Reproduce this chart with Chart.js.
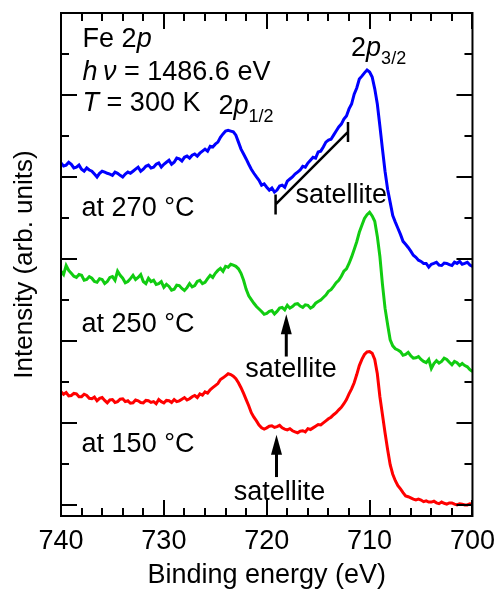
<!DOCTYPE html>
<html><head><meta charset="utf-8">
<script src="https://cdn.jsdelivr.net/npm/chart.js@4/dist/chart.umd.min.js"></script>
<style>html,body{margin:0;padding:0;background:#fff}#wrap{width:504px;height:593px;position:relative}</style>
</head><body><div id="wrap"><canvas id="c"></canvas></div>
<script>
// ---------------- data ----------------
const energies = [
  740,739.75,739.5,739.25,739,738.75,738.5,738.25,
  738,737.75,737.5,737.25,737,736.75,736.5,736.25,
  736,735.75,735.5,735.25,735,734.75,734.5,734.25,
  734,733.75,733.5,733.25,733,732.75,732.5,732.25,
  732,731.75,731.5,731.25,731,730.75,730.5,730.25,
  730,729.75,729.5,729.25,729,728.75,728.5,728.25,
  728,727.75,727.5,727.25,727,726.75,726.5,726.25,
  726,725.75,725.5,725.25,725,724.75,724.5,724.25,
  724,723.75,723.5,723.25,723,722.75,722.5,722.25,
  722,721.75,721.5,721.25,721,720.75,720.5,720.25,
  720,719.75,719.5,719.25,719,718.75,718.5,718.25,
  718,717.75,717.5,717.25,717,716.75,716.5,716.25,
  716,715.75,715.5,715.25,715,714.75,714.5,714.25,
  714,713.75,713.5,713.25,713,712.75,712.5,712.25,
  712,711.75,711.5,711.25,711,710.75,710.5,710.25,
  710,709.75,709.5,709.25,709,708.75,708.5,708.25,
  708,707.75,707.5,707.25,707,706.75,706.5,706.25,
  706,705.75,705.5,705.25,705,704.75,704.5,704.25,
  704,703.75,703.5,703.25,703,702.75,702.5,702.25,
  702,701.75,701.5,701.25,701,700.75,700.5,700.25,
  700];
const blue270 = [
  8.34,8.27,8.29,8.36,8.31,8.22,8.24,8.29,
  8.19,8.14,8.22,8.17,8.14,8.07,8.00,8.09,
  8.14,8.12,8.09,8.07,8.04,8.12,8.09,8.04,
  8.00,8.07,8.12,8.09,8.14,8.19,8.24,8.14,
  8.19,8.26,8.29,8.22,8.24,8.31,8.34,8.24,
  8.31,8.36,8.41,8.31,8.36,8.46,8.44,8.39,
  8.48,8.51,8.46,8.53,8.56,8.51,8.58,8.63,
  8.68,8.63,8.75,8.73,8.80,8.85,8.97,9.05,
  9.12,9.14,9.12,9.10,9.02,8.85,8.68,8.56,
  8.44,8.31,8.19,8.09,8.00,7.92,7.80,7.83,
  7.75,7.68,7.73,7.63,7.68,7.78,7.80,7.75,
  7.90,7.95,8.00,8.07,8.12,8.17,8.26,8.24,
  8.34,8.41,8.48,8.46,8.61,8.63,8.73,8.85,
  8.90,8.92,9.02,9.12,9.22,9.29,9.41,9.49,
  9.66,9.78,10.02,10.17,10.39,10.46,10.54,10.61,
  10.56,10.44,10.15,9.78,9.24,8.68,8.14,7.70,
  7.38,7.06,6.90,6.75,6.60,6.43,6.36,6.28,
  6.19,6.09,6.04,5.97,5.94,5.89,5.89,5.80,
  5.87,5.89,5.92,5.85,5.84,5.90,5.89,5.86,
  5.84,5.92,5.89,5.94,5.87,5.89,5.92,5.85,
  5.82];
const green250 = [
  5.70,5.62,5.84,5.72,5.65,5.58,5.55,5.62,
  5.60,5.48,5.50,5.57,5.53,5.45,5.43,5.52,
  5.50,5.40,5.45,5.55,5.57,5.48,5.70,5.60,
  5.53,5.42,5.45,5.52,5.60,5.50,5.55,5.62,
  5.45,5.40,5.53,5.45,5.48,5.38,5.40,5.45,
  5.31,5.38,5.33,5.24,5.26,5.36,5.35,5.28,
  5.23,5.30,5.40,5.32,5.35,5.45,5.48,5.40,
  5.43,5.52,5.60,5.55,5.65,5.72,5.77,5.70,
  5.82,5.80,5.87,5.85,5.82,5.76,5.65,5.48,
  5.26,5.10,5.01,4.92,4.84,4.78,4.72,4.65,
  4.67,4.72,4.74,4.66,4.72,4.80,4.82,4.76,
  4.87,4.80,4.84,4.90,4.91,4.85,4.82,4.88,
  4.87,4.80,4.84,4.92,4.96,5.00,5.06,5.12,
  5.21,5.25,5.33,5.42,5.48,5.58,5.70,5.76,
  5.89,6.05,6.23,6.42,6.65,6.82,6.99,7.08,
  7.14,7.05,6.92,6.55,6.06,5.38,4.80,4.40,
  4.03,3.88,3.81,3.78,3.74,3.65,3.67,3.72,
  3.64,3.58,3.59,3.62,3.55,3.50,3.47,3.55,
  3.33,3.45,3.52,3.46,3.50,3.58,3.55,3.48,
  3.42,3.50,3.47,3.40,3.45,3.40,3.37,3.30,
  3.25];
const red150 = [
  2.76,2.70,2.74,2.66,2.67,2.72,2.71,2.64,
  2.64,2.70,2.67,2.60,2.59,2.63,2.54,2.60,
  2.62,2.55,2.49,2.56,2.57,2.50,2.52,2.58,
  2.59,2.52,2.54,2.48,2.49,2.56,2.54,2.50,
  2.49,2.55,2.54,2.50,2.52,2.47,2.57,2.52,
  2.49,2.55,2.54,2.50,2.57,2.52,2.54,2.58,
  2.62,2.56,2.59,2.64,2.67,2.62,2.71,2.68,
  2.76,2.73,2.81,2.86,2.91,2.96,3.06,3.10,
  3.15,3.20,3.18,3.14,3.08,2.98,2.86,2.72,
  2.57,2.42,2.25,2.14,2.05,1.95,1.88,1.85,
  1.88,1.92,1.93,1.89,1.91,1.94,1.88,1.85,
  1.83,1.86,1.81,1.78,1.76,1.80,1.81,1.78,
  1.86,1.84,1.88,1.92,1.96,1.95,2.00,2.05,
  2.10,2.14,2.20,2.25,2.32,2.38,2.47,2.57,
  2.71,2.83,2.98,3.18,3.40,3.55,3.67,3.73,
  3.74,3.70,3.55,3.20,2.64,2.20,1.76,1.35,
  0.98,0.75,0.59,0.47,0.39,0.30,0.22,0.20,
  0.17,0.14,0.12,0.14,0.12,0.08,0.10,0.07,
  0.07,0.09,0.05,0.03,0.07,0.04,0.02,0.05,
  0.05,0.02,0.00,0.03,0.02,0.00,0.00,0.03,
  0.02];
const seriesNames = ['at 270 °C','at 250 °C','at 150 °C'];
const xTickLabels = [740,730,720,710,700];
const xMinorTicks = [738,736,734,732,728,726,724,722,718,716,714,712,708,706,704,702];
const yMajorTicks = [0,2,4,6,8,10,12];
const yMinorTicks = [1,3,5,7,9,11];

// ---------------- annotation placement (data coordinates) ----------------
const FONT = "'Liberation Sans', Arial, Helvetica, sans-serif";
const textNotes = [
  {x:737.9, y:11.17, parts:[{t:'Fe 2'},{t:'p',i:1}]},
  {x:737.9, y:10.37, parts:[{t:'h',i:1},{t:'\u2009'},{t:'\u03bd',i:1},{t:' = 1486.6 eV'}]},
  {x:737.9, y:9.61, parts:[{t:'T',i:1},{t:' = 300 K'}]},
  {x:724.7, y:9.54, parts:[{t:'2'},{t:'p',i:1},{t:'1/2',s:1}]},
  {x:711.8, y:10.95, parts:[{t:'2'},{t:'p',i:1},{t:'3/2',s:1}]},
  {x:738.0, y:7.04, parts:[{t:seriesNames[0]}]},
  {x:738.0, y:4.21, parts:[{t:seriesNames[1]}]},
  {x:738.0, y:1.30, parts:[{t:seriesNames[2]}]},
  {x:717.2, y:7.36, parts:[{t:'satellite'}]},
  {x:722.1, y:3.11, parts:[{t:'satellite'}]},
  {x:723.2, y:0.12, parts:[{t:'satellite'}]}
];
const bracket = [[719.14,7.33],[712.1,9.1]];
const arrows = [{x:718.1, tip:4.65, tail:3.62},{x:719.05, tip:1.71, tail:0.68}];

const mk = vals => energies.map((e,i)=>({x:e,y:vals[i]}));

const deco = {
  id:'deco',
  afterDatasetsDraw(chart){
    const {ctx, chartArea:a, scales:{x,y}} = chart;
    ctx.save();
    ctx.strokeStyle='#000'; ctx.fillStyle='#000'; ctx.lineWidth=2;
    ctx.beginPath();
    const tick = (vals,len) => {
      vals.forEach(v=>{const p=Math.round(x.getPixelForValue(v));
        ctx.moveTo(p,a.bottom); ctx.lineTo(p,a.bottom-len);
        ctx.moveTo(p,a.top); ctx.lineTo(p,a.top+len);});
    };
    const ytick = (vals,len) => {
      vals.forEach(v=>{const p=Math.round(y.getPixelForValue(v));
        ctx.moveTo(a.left,p); ctx.lineTo(a.left+len,p);
        ctx.moveTo(a.right,p); ctx.lineTo(a.right-len,p);});
    };
    tick(xTickLabels,16); tick(xMinorTicks,8);
    ytick(yMajorTicks,16); ytick(yMinorTicks,8);
    ctx.stroke();
    ctx.strokeRect(a.left,a.top,a.right-a.left,a.bottom-a.top);
    // bracket
    ctx.lineWidth=2.5;
    const b0x=x.getPixelForValue(bracket[0][0]), b0y=y.getPixelForValue(bracket[0][1]);
    const b1x=x.getPixelForValue(bracket[1][0]), b1y=y.getPixelForValue(bracket[1][1]);
    ctx.beginPath();
    ctx.moveTo(b0x,b0y); ctx.lineTo(b1x,b1y);
    ctx.moveTo(b0x,b0y-10); ctx.lineTo(b0x,b0y+10);
    ctx.moveTo(b1x,b1y-10); ctx.lineTo(b1x,b1y+10);
    ctx.stroke();
    // arrows
    arrows.forEach(ar=>{
      const px=x.getPixelForValue(ar.x), pt=y.getPixelForValue(ar.tip), pb=y.getPixelForValue(ar.tail);
      ctx.lineWidth=3;
      ctx.beginPath(); ctx.moveTo(px,pb); ctx.lineTo(px,pt+14); ctx.stroke();
      ctx.beginPath(); ctx.moveTo(px,pt); ctx.lineTo(px-5.5,pt+20); ctx.lineTo(px+5.5,pt+20); ctx.closePath(); ctx.fill();
    });
    // texts
    ctx.textBaseline='alphabetic'; ctx.textAlign='left';
    textNotes.forEach(n=>{
      let cx=x.getPixelForValue(n.x); const by=y.getPixelForValue(n.y);
      n.parts.forEach(p=>{
        const fs = p.s ? 18 : 27;
        ctx.font=(p.i?'italic ':'')+fs+'px '+FONT;
        ctx.fillText(p.t,cx,by+(p.s?8:0));
        cx+=ctx.measureText(p.t).width;
      });
    });
    ctx.restore();
  }
};

new Chart(document.getElementById('c'),{
  type:'line',
  data:{datasets:[
    {label:seriesNames[0], data:mk(blue270), borderColor:'#0000ff'},
    {label:seriesNames[1], data:mk(green250), borderColor:'#11cc11'},
    {label:seriesNames[2], data:mk(red150), borderColor:'#ff0000'}
  ]},
  options:{
    responsive:true, maintainAspectRatio:false, animation:false,
    layout:{padding:{top:13,right:23,left:0,bottom:0}, autoPadding:false},
    elements:{point:{radius:0}, line:{borderWidth:3, tension:0}},
    plugins:{legend:{display:false}, tooltip:{enabled:false}},
    scales:{
      x:{type:'linear', min:700, max:740, reverse:true,
        afterBuildTicks:s=>{s.ticks=xTickLabels.map(v=>({value:v}));},
        ticks:{font:{size:27,family:FONT}, color:'#000', padding:9, maxRotation:0, autoSkip:false},
        grid:{display:false, drawTicks:false}, border:{display:false},
        title:{display:true, text:'Binding energy (eV)', font:{size:27,family:FONT}, color:'#000', padding:{top:0,bottom:1}},
        afterFit:s=>{s.height=77;}},
      y:{type:'linear', min:-0.27, max:12,
        ticks:{display:false}, grid:{display:false, drawTicks:false}, border:{display:false},
        title:{display:true, text:'Intensity (arb. units)', font:{size:26,family:FONT}, color:'#000', padding:{top:9,bottom:0}},
        afterFit:s=>{s.width=61;}}
    }
  },
  plugins:[deco]
});
</script></body></html>
